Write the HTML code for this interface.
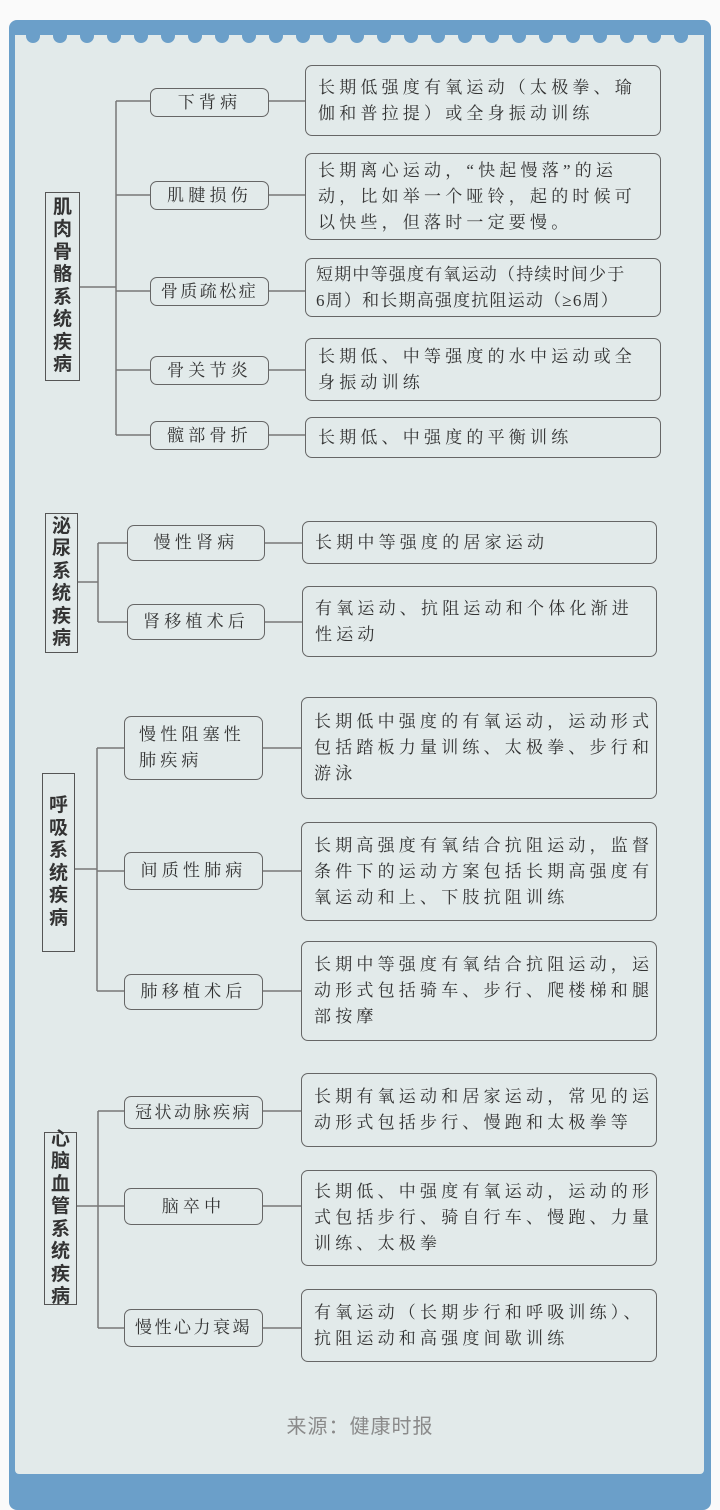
<!DOCTYPE html>
<html><head><meta charset="utf-8"><style>
*{margin:0;padding:0;box-sizing:border-box}
body{width:720px;height:1504px;background:#fafafa;position:relative;overflow:hidden;font-family:"Liberation Serif","Noto Serif CJK SC",serif;color:#333}
.frame{position:absolute;left:9px;top:20px;width:702px;height:1490px;background:#6b9fc9;border-radius:8px}
.panel{position:absolute;left:15px;top:35px;width:689px;height:1439px;background:#e2eaea;border-radius:0 0 4px 4px}
.sc{position:absolute;top:35px;width:14px;height:8px;background:#6b9fc9;border-radius:0 0 7px 7px}
.b{position:absolute;border:1.5px solid #666;border-radius:7px;display:flex;align-items:center;font-size:17px;letter-spacing:4.2px;line-height:26px;white-space:nowrap}
.n{justify-content:center;text-align:center}
.d{padding-left:12px}
.c{position:absolute;border:1.5px solid #555;display:flex;align-items:center;justify-content:center;font-family:"Liberation Sans","Noto Sans CJK SC",sans-serif;font-weight:bold;font-size:19px;line-height:22.5px;text-align:center;color:#333}
svg{position:absolute;left:0;top:0}
.f{position:absolute;left:0;width:720px;top:1410px;text-align:center;font-family:"Liberation Sans","Noto Sans CJK SC",sans-serif;font-size:20px;color:#8a8a8a;letter-spacing:1px}
</style></head><body>
<div class="frame"></div>
<div class="panel"></div>
<div class="sc" style="left:26px"></div><div class="sc" style="left:53px"></div><div class="sc" style="left:80px"></div><div class="sc" style="left:107px"></div><div class="sc" style="left:134px"></div><div class="sc" style="left:161px"></div><div class="sc" style="left:188px"></div><div class="sc" style="left:215px"></div><div class="sc" style="left:242px"></div><div class="sc" style="left:269px"></div><div class="sc" style="left:296px"></div><div class="sc" style="left:323px"></div><div class="sc" style="left:350px"></div><div class="sc" style="left:377px"></div><div class="sc" style="left:404px"></div><div class="sc" style="left:431px"></div><div class="sc" style="left:458px"></div><div class="sc" style="left:485px"></div><div class="sc" style="left:512px"></div><div class="sc" style="left:539px"></div><div class="sc" style="left:566px"></div><div class="sc" style="left:593px"></div><div class="sc" style="left:620px"></div><div class="sc" style="left:647px"></div><div class="sc" style="left:674px"></div>
<svg width="720" height="1504" stroke="#777" stroke-width="1.5" fill="none">
<path d="M80 287H116M116 101V435M116 101H150M116 195H150M116 291H150M116 370H150M116 435H150"/>
<path d="M269 101H305M269 195H305M269 291H305M269 370H305M269 435H305"/>
<path d="M77 582H98M98 543V622M98 543H127M98 622H127M265 543H302M265 622H302"/>
<path d="M74 869H97M97 748V991M97 748H124M97 871H124M97 991H124M263 748H301M263 871H301M263 991H301"/>
<path d="M76 1206H98M98 1111V1328M98 1111H124M98 1206H124M98 1328H124M263 1111H301M263 1206H301M263 1328H301"/>
</svg>
<div class="c" style="left:45px;top:192px;width:35px;height:189px">肌<br>肉<br>骨<br>骼<br>系<br>统<br>疾<br>病</div>
<div class="b n" style="left:150px;top:88px;width:119px;height:29px">下背病</div>
<div class="b n" style="left:150px;top:181px;width:119px;height:29px">肌腱损伤</div>
<div class="b n" style="left:150px;top:277px;width:119px;height:29px;letter-spacing:2.5px">骨质疏松症</div>
<div class="b n" style="left:150px;top:356px;width:119px;height:29px">骨关节炎</div>
<div class="b n" style="left:150px;top:421px;width:119px;height:29px">髋部骨折</div>
<div class="b d" style="left:305px;top:65px;width:356px;height:71px">长期低强度有氧运动（太极拳、瑜<br>伽和普拉提）或全身振动训练</div>
<div class="b d" style="left:305px;top:153px;width:356px;height:87px">长期离心运动，“快起慢落”的运<br>动，比如举一个哑铃，起的时候可<br>以快些，但落时一定要慢。</div>
<div class="b d" style="left:305px;top:258px;width:356px;height:59px;letter-spacing:1.2px;padding-left:10px">短期中等强度有氧运动（持续时间少于<br>6周）和长期高强度抗阻运动（≥6周）</div>
<div class="b d" style="left:305px;top:338px;width:356px;height:63px">长期低、中等强度的水中运动或全<br>身振动训练</div>
<div class="b d" style="left:305px;top:417px;width:356px;height:41px">长期低、中强度的平衡训练</div>

<div class="c" style="left:45px;top:513px;width:33px;height:140px">泌<br>尿<br>系<br>统<br>疾<br>病</div>
<div class="b n" style="left:127px;top:525px;width:138px;height:36px">慢性肾病</div>
<div class="b n" style="left:127px;top:604px;width:138px;height:36px">肾移植术后</div>
<div class="b d" style="left:302px;top:521px;width:355px;height:43px">长期中等强度的居家运动</div>
<div class="b d" style="left:302px;top:586px;width:355px;height:71px">有氧运动、抗阻运动和个体化渐进<br>性运动</div>

<div class="c" style="left:42px;top:773px;width:33px;height:179px">呼<br>吸<br>系<br>统<br>疾<br>病</div>
<div class="b d" style="left:124px;top:716px;width:139px;height:64px;padding-left:14px">慢性阻塞性<br>肺疾病</div>
<div class="b n" style="left:124px;top:852px;width:139px;height:38px">间质性肺病</div>
<div class="b n" style="left:124px;top:974px;width:139px;height:36px">肺移植术后</div>
<div class="b d" style="left:301px;top:697px;width:356px;height:102px">长期低中强度的有氧运动，运动形式<br>包括踏板力量训练、太极拳、步行和<br>游泳</div>
<div class="b d" style="left:301px;top:822px;width:356px;height:99px">长期高强度有氧结合抗阻运动，监督<br>条件下的运动方案包括长期高强度有<br>氧运动和上、下肢抗阻训练</div>
<div class="b d" style="left:301px;top:941px;width:356px;height:100px">长期中等强度有氧结合抗阻运动，运<br>动形式包括骑车、步行、爬楼梯和腿<br>部按摩</div>

<div class="c" style="left:44px;top:1132px;width:33px;height:173px">心<br>脑<br>血<br>管<br>系<br>统<br>疾<br>病</div>
<div class="b n" style="left:124px;top:1096px;width:139px;height:33px;letter-spacing:2.5px">冠状动脉疾病</div>
<div class="b n" style="left:124px;top:1188px;width:139px;height:37px">脑卒中</div>
<div class="b n" style="left:124px;top:1309px;width:139px;height:38px;letter-spacing:2.5px">慢性心力衰竭</div>
<div class="b d" style="left:301px;top:1073px;width:356px;height:74px">长期有氧运动和居家运动，常见的运<br>动形式包括步行、慢跑和太极拳等</div>
<div class="b d" style="left:301px;top:1170px;width:356px;height:96px">长期低、中强度有氧运动，运动的形<br>式包括步行、骑自行车、慢跑、力量<br>训练、太极拳</div>
<div class="b d" style="left:301px;top:1289px;width:356px;height:73px">有氧运动（长期步行和呼吸训练）、<br>抗阻运动和高强度间歇训练</div>

<div class="f">来源：健康时报</div>
</body></html>
